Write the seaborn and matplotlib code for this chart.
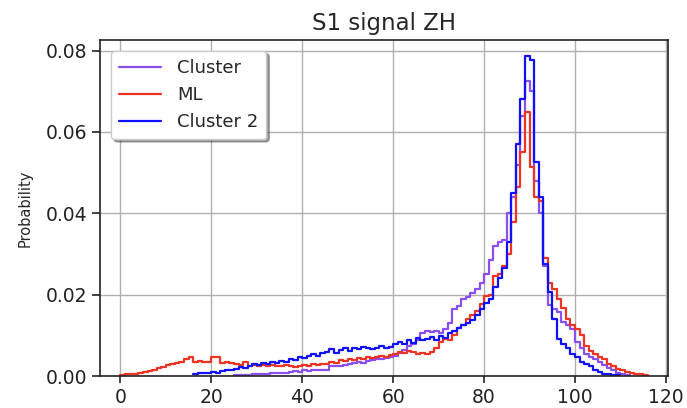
import numpy as np
import pandas as pd
import seaborn as sns
import matplotlib
matplotlib.use("Agg")
import matplotlib.pyplot as plt

# Normalised histograms (unit-width bins); each list starts at its first bin edge
cluster_start = 25
cluster_prob = [
    0.0002, 0.0003, 0.0003, 0.0004, 0.0005, 0.0005, 0.0006, 0.0006, 0.0007, 0.0008,
    0.0007, 0.0009, 0.0010, 0.0012, 0.0011, 0.0014, 0.0013, 0.0015, 0.0014, 0.0016,
    0.0015, 0.0024, 0.0026, 0.0025, 0.0028, 0.0030, 0.0032, 0.0035, 0.0033, 0.0038,
    0.0040, 0.0043, 0.0041, 0.0044, 0.0048, 0.0050, 0.0058, 0.0065, 0.0075, 0.0080,
    0.0090, 0.0105, 0.0110, 0.0108, 0.0112, 0.0105, 0.0115, 0.0130, 0.0165, 0.0172,
    0.0190, 0.0195, 0.0205, 0.0215, 0.0230, 0.0250, 0.0285, 0.0320, 0.0330, 0.0335,
    0.0400, 0.0440, 0.0520, 0.0640, 0.0725, 0.0700, 0.0480, 0.0400, 0.0270, 0.0175,
    0.0165, 0.0158, 0.0134, 0.0125, 0.0117, 0.0085, 0.0068, 0.0055, 0.0048, 0.0042,
    0.0036, 0.0028, 0.0019, 0.0014, 0.0009, 0.0006, 0.0003,
]

ml_start = 0
ml_prob = [
    0.0004, 0.0005, 0.0006, 0.0006, 0.0008, 0.0010, 0.0012, 0.0016, 0.0019, 0.0022,
    0.0027, 0.0030, 0.0033, 0.0036, 0.0043, 0.0047, 0.0036, 0.0037, 0.0034, 0.0036,
    0.0047, 0.0046, 0.0033, 0.0034, 0.0032, 0.0029, 0.0027, 0.0035, 0.0026, 0.0027,
    0.0026, 0.0028, 0.0025, 0.0027, 0.0024, 0.0026, 0.0028, 0.0024, 0.0023, 0.0026,
    0.0028, 0.0025, 0.0030, 0.0028, 0.0031, 0.0030, 0.0034, 0.0033, 0.0039, 0.0037,
    0.0043, 0.0040, 0.0045, 0.0042, 0.0046, 0.0044, 0.0047, 0.0050, 0.0048, 0.0052,
    0.0055, 0.0060, 0.0058, 0.0062, 0.0059, 0.0055, 0.0057, 0.0055, 0.0060, 0.0070,
    0.0085, 0.0092, 0.0090, 0.0100, 0.0118, 0.0125, 0.0140, 0.0150, 0.0160, 0.0178,
    0.0196, 0.0200, 0.0245, 0.0250, 0.0270, 0.0300, 0.0380, 0.0465, 0.0550, 0.0650,
    0.0515, 0.0440, 0.0430, 0.0290, 0.0230, 0.0215, 0.0190, 0.0168, 0.0140, 0.0125,
    0.0115, 0.0100, 0.0075, 0.0062, 0.0055, 0.0048, 0.0042, 0.0030, 0.0025, 0.0018,
    0.0014, 0.0010, 0.0008, 0.0006, 0.0005, 0.0003,
]

cluster2_start = 16
cluster2_prob = [
    0.0006, 0.0008, 0.0007, 0.0009, 0.0010, 0.0008, 0.0012, 0.0014, 0.0016, 0.0018,
    0.0022, 0.0020, 0.0026, 0.0030, 0.0028, 0.0032, 0.0030, 0.0035, 0.0033, 0.0038,
    0.0036, 0.0042, 0.0040, 0.0048, 0.0045, 0.0050, 0.0055, 0.0050, 0.0058, 0.0060,
    0.0066, 0.0058, 0.0064, 0.0068, 0.0062, 0.0070, 0.0066, 0.0072, 0.0068, 0.0066,
    0.0070, 0.0074, 0.0068, 0.0072, 0.0078, 0.0085, 0.0080, 0.0090, 0.0082, 0.0095,
    0.0088, 0.0092, 0.0096, 0.0090, 0.0098, 0.0095, 0.0105, 0.0110, 0.0118, 0.0125,
    0.0130, 0.0138, 0.0150, 0.0165, 0.0180, 0.0190, 0.0220, 0.0240, 0.0265, 0.0330,
    0.0450, 0.0570, 0.0680, 0.0787, 0.0777, 0.0525, 0.0440, 0.0275, 0.0207, 0.0140,
    0.0092, 0.0080, 0.0068, 0.0055, 0.0048, 0.0036, 0.0030, 0.0024, 0.0016, 0.0010,
    0.0006, 0.0005, 0.0003, 0.0002,
]

series_names = ["Cluster", "ML", "Cluster 2"]
series_colors = ["#8a4ff0", "#ee3322", "#1010ff"]
series_data = [
    (cluster_start, cluster_prob),
    (ml_start, ml_prob),
    (cluster2_start, cluster2_prob),
]

x_ticks = [0, 20, 40, 60, 80, 100, 120]
y_ticks = [0.00, 0.02, 0.04, 0.06, 0.08]

sns.set_style("ticks")
plt.rcParams["font.family"] = ["DejaVu Sans"]

fig, ax = plt.subplots(figsize=(6.87, 4.08), dpi=100)
fig.subplots_adjust(left=0.146, right=0.972, top=0.902, bottom=0.078)

for name, color, (start, probs) in zip(series_names, series_colors, series_data):
    probs = np.asarray(probs, dtype=float)
    n_bins = len(probs)
    centers = start + np.arange(n_bins) + 0.5
    frame = pd.DataFrame({"value": centers, "prob": probs})
    sns.histplot(
        data=frame, x="value", weights="prob",
        bins=n_bins, binrange=(start, start + n_bins),
        element="step", fill=False, stat="count",
        color=color, linewidth=1.6, label=name, ax=ax,
    )

ax.set_xlim(-4.4, 120.4)
ax.set_ylim(0, 0.0826)
ax.set_xticks(x_ticks)
ax.set_yticks(y_ticks)
ax.set_yticklabels([f"{v:.2f}" for v in y_ticks])
ax.tick_params(labelsize=13.5, colors="#222222", length=5, width=1.2, pad=3.5)
ax.tick_params(axis="y", length=5.5, pad=4)
ax.set_xlabel("")
ax.set_ylabel("Probability", fontsize=10.5, labelpad=9)
ax.set_title("S1 signal ZH", fontsize=16.5, pad=7)
ax.grid(True, color="#b0b0b0", linewidth=1.0)
ax.set_axisbelow(True)
for side in ["top", "right", "bottom", "left"]:
    ax.spines[side].set_visible(True)
    ax.spines[side].set_color("#222222")
    ax.spines[side].set_linewidth(1.2)

ax.legend(loc="upper left", fancybox=True, shadow=True, framealpha=1,
          fontsize=13, borderpad=0.45, handlelength=2.3, handletextpad=0.9,
          labelspacing=0.5, borderaxespad=0.6)

fig.savefig("out.png", dpi=100)
